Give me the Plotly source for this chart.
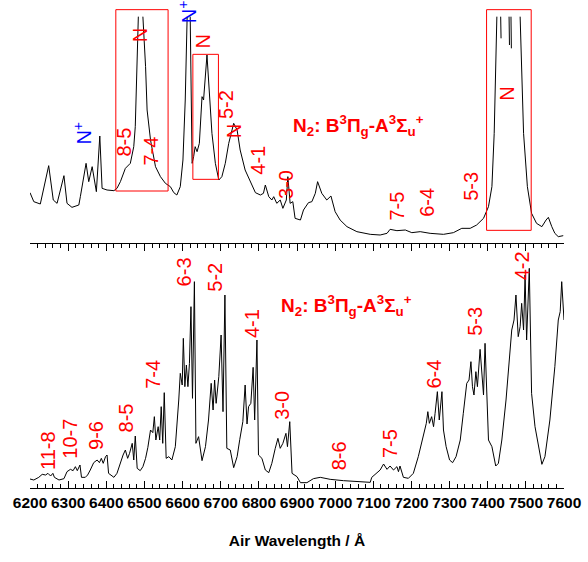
import plotly.graph_objects as go

# ---------------- data ----------------
# Top spectrum (arbitrary intensity units); None marks saturated (cut-off) peak tops
top_wl = [6200, 6210, 6227, 6249, 6261, 6271, 6289, 6297, 6310, 6328, 6332, 6347, 6354, 6363, 6374,
          6383, 6389, 6402, 6420, 6428, 6437, 6450, 6463, 6472, 6476, 6481, 6484, None,
          6496, 6503, 6507, 6516, 6529, 6542, 6555, 6568, 6577, 6585, 6594, 6601, 6607, 6612, None,
          6620, 6625, 6629, 6633, 6638, 6644, 6651, 6655, 6664, 6671, 6677, 6686, 6695, 6703, 6712,
          6721, 6734, 6743, 6751, 6764, 6778, 6791, 6804, 6812, 6817, 6826, 6834, 6839, 6847, 6856,
          6863, 6872, 6876, 6882, 6889, 6895, 6909, 6917, 6930, 6939, 6948, 6954, 6965, 6978, 6989,
          7000, 7013, 7031, 7057, 7092, 7118, 7136, 7144, 7162, 7184, 7201, 7223, 7249, 7284, 7310,
          7332, 7354, 7371, 7389, 7402, 7411, 7417, 7421, 7424, None,
          7434, 7435, None, 7456, 7457, None, 7461, 7462, None,
          7485, 7489, 7494, 7504, 7515, 7528, 7542, 7553, 7559, 7568, 7576, 7585, 7598]
top_int = [157, 130, 123, 238, 135, 125, 208, 125, 113, 120, 145, 245, 190, 235, 160,
           327, 170, 165, 163, 170, 190, 230, 245, 295, 355, 535, 685, None,
           685, 535, 405, 315, 235, 205, 185, 175, 157, 150, 175, 255, 435, 685, None,
           685, 245, 265, 295, 280, 305, 445, 435, 570, 455, 335, 245, 195, 205, 245,
           305, 365, 345, 285, 225, 190, 157, 150, 155, 180, 145, 135, 145, 125, 135,
           110, 135, 205, 125, 130, 80, 75, 105, 127, 130, 155, 190, 155, 135, 147,
           100, 75, 55, 40, 32, 30, 35, 47, 43, 45, 37, 40, 35, 32, 37,
           50, 50, 60, 80, 115, 175, 335, 535, 685, None,
           685, 620, None, 685, 600, None, 685, 590, None,
           685, 535, 335, 175, 95, 65, 55, 75, 83, 55, 35, 25, 28]

# Bottom spectrum (arbitrary intensity units)
bot_wl = [6200, 6210, 6223, 6232, 6241, 6247, 6254, 6260, 6264, 6276, 6289, 6297, 6306, 6313, 6319,
          6324, 6331, 6335, 6345, 6351, 6358, 6367, 6376, 6382, 6387, 6392, 6398, 6402, 6406, 6420,
          6428, 6437, 6444, 6450, 6456, 6461, 6468, 6472, 6476, 6481, 6489, 6496, 6503, 6509, 6516,
          6522, 6526, 6530, 6536, 6540, 6544, 6548, 6552, 6557, 6564, 6572, 6581, 6590, 6594, 6599,
          6602, 6606, 6610, 6614, 6618, 6622, 6626, 6631, 6635, 6642, 6651, 6660, 6668, 6675, 6680,
          6684, 6688, 6695, 6701, 6706, 6711, 6716, 6725, 6734, 6743, 6750, 6758, 6764, 6769, 6773,
          6779, 6785, 6789, 6795, 6799, 6808, 6817, 6826, 6834, 6843, 6850, 6856, 6863, 6871, 6875,
          6881, 6887, 6900, 6909, 6926, 6943, 6961, 6987, 7022, 7057, 7092, 7096, 7109, 7118, 7127,
          7136, 7144, 7153, 7162, 7166, 7170, 7179, 7192, 7205, 7218, 7230, 7239, 7243, 7247, 7253,
          7258, 7262, 7268, 7273, 7280, 7284, 7291, 7300, 7308, 7317, 7328, 7336, 7345, 7351, 7356,
          7360, 7364, 7369, 7373, 7380, 7384, 7389, 7393, 7402, 7411, 7421, 7428, 7437, 7448, 7457,
          7463, 7469, 7474, 7480, 7485, 7489, 7494, 7498, 7502, 7509, 7515, 7524, 7533, 7542, 7550,
          7563, 7576, 7585, 7590, 7594, 7600]
bot_int = [27, 24, 32, 41, 39, 44, 36, 44, 32, 24, 28, 49, 56, 52, 64,
           52, 69, 32, 32, 39, 54, 76, 84, 76, 89, 74, 94, 99, 44, 32,
           44, 79, 99, 114, 89, 104, 134, 84, 156, 59, 52, 64, 89, 122, 174,
           166, 214, 144, 184, 144, 244, 134, 286, 89, 94, 84, 124, 264, 344, 309,
           449, 304, 369, 304, 374, 544, 269, 619, 134, 154, 82, 124, 204, 314, 234,
           324, 254, 334, 459, 229, 579, 119, 114, 61, 94, 146, 199, 309, 192, 244,
           254, 362, 204, 444, 99, 89, 54, 46, 74, 119, 149, 119, 134, 164, 124,
           199, 44, 34, 16, 16, 28, 32, 26, 22, 19, 17, 32, 44, 54, 72,
           56, 66, 54, 64, 49, 66, 32, 29, 44, 94, 154, 194, 229, 194, 214,
           184, 224, 289, 204, 289, 174, 124, 84, 76, 94, 144, 224, 314, 324, 379,
           304, 279, 349, 304, 416, 344, 279, 434, 144, 124, 66, 74, 144, 264, 384,
           474, 504, 579, 454, 484, 554, 474, 639, 444, 659, 284, 184, 124, 71, 94,
           204, 364, 504, 529, 619, 504]

# Band labels (vibrational transitions): text, wavelength, intensity
top_labels = ["8-5", "7-4", "5-2", "4-1", "3-0", "7-5", "6-4", "5-3"]
top_label_wl = [6447, 6517, 6714, 6797, 6871, 7162, 7242, 7354]
top_label_int = [308, 283, 420, 255, 183, 118, 128, 175]

atom_labels = ["N", "N", "N", "N"]
atom_label_wl = [6489, 6653, 6734, 7450]
atom_label_int = [630, 610, 340, 453]

ion_labels = ["N<sup>+</sup>", "N<sup>+</sup>"]
ion_label_wl = [6337, 6613]
ion_label_int = [335, 700]

# boxes around atomic lines: (wl0, wl1, int0, int1)
box_wl0 = [6425, 6627, 7397]
box_wl1 = [6562, 6694, 7514]
box_int0 = [162, 197, 44]
box_int1 = [706, 572, 706]

bot_labels = ["11-8", "10-7", "9-6", "8-5", "7-4", "6-3", "5-2", "4-1", "3-0",
              "8-6", "7-5", "6-4", "5-3", "4-2"]
bot_label_wl = [6247, 6304, 6373, 6452, 6522, 6603, 6685, 6784, 6861,
                7009, 7144, 7258, 7367, 7489]
bot_label_int = [114, 147, 159, 209, 342, 649, 634, 494, 247,
                 97, 132, 342, 499, 667]

formula = "N<sub>2</sub>: B<sup>3</sup>Π<sub>g</sub>-A<sup>3</sup>Σ<sub>u</sub><sup>+</sup>"
formula_top = (7061, 360)
formula_bot = (7030, 548)

x_ticks = list(range(6200, 7601, 100))

# ---------------- figure ----------------
FONT = "Liberation Sans, Arial, sans-serif"
RED = "#ff0000"
BLUE = "#0000ff"
split = 244 / 480

fig = go.Figure()
fig.add_trace(go.Scatter(x=top_wl, y=top_int, mode="lines", xaxis="x2", yaxis="y2",
                         line=dict(color="black", width=1), connectgaps=False, showlegend=False))
fig.add_trace(go.Scatter(x=bot_wl, y=bot_int, mode="lines", xaxis="x", yaxis="y",
                         line=dict(color="black", width=1), showlegend=False))

ann = []
for t, x, y in zip(top_labels, top_label_wl, top_label_int):
    ann.append(dict(text=t, x=x, y=y, xref="x2", yref="y2", textangle=-90, showarrow=False,
                    font=dict(family=FONT, size=20, color=RED)))
for t, x, y in zip(atom_labels, atom_label_wl, atom_label_int):
    ann.append(dict(text=t, x=x, y=y, xref="x2", yref="y2", textangle=-90, showarrow=False,
                    font=dict(family=FONT, size=20, color=RED)))
for t, x, y in zip(ion_labels, ion_label_wl, ion_label_int):
    ann.append(dict(text=t, x=x, y=y, xref="x2", yref="y2", textangle=-90, showarrow=False,
                    font=dict(family=FONT, size=20, color=BLUE)))
for t, x, y in zip(bot_labels, bot_label_wl, bot_label_int):
    ann.append(dict(text=t, x=x, y=y, xref="x", yref="y", textangle=-90, showarrow=False,
                    font=dict(family=FONT, size=20, color=RED)))
ann.append(dict(text=formula, x=formula_top[0], y=formula_top[1], xref="x2", yref="y2",
                showarrow=False, font=dict(family=FONT, size=19, color=RED, weight="bold")))
ann.append(dict(text=formula, x=formula_bot[0], y=formula_bot[1], xref="x", yref="y",
                showarrow=False, font=dict(family=FONT, size=19, color=RED, weight="bold")))

shapes = []
for a, b, c, d in zip(box_wl0, box_wl1, box_int0, box_int1):
    shapes.append(dict(type="rect", xref="x2", yref="y2", x0=a, x1=b, y0=c, y1=d,
                       line=dict(color=RED, width=1)))

fig.update_layout(
    width=588, height=562,
    margin=dict(l=29.5, r=24, t=8, b=74),
    paper_bgcolor="white", plot_bgcolor="white",
    font=dict(family=FONT, color="black"),
    xaxis=dict(domain=[0, 1], anchor="y", range=[6200, 7600], showline=True, linecolor="black",
               linewidth=1.2, mirror="allticks", ticks="inside", ticklen=7, tickwidth=1.2,
               tickcolor="black", tickvals=x_ticks, ticktext=[str(v) for v in x_ticks],
               minor=dict(dtick=20, tick0=6200, ticks="inside", ticklen=4, tickwidth=1, tickcolor="black"),
               showgrid=False, zeroline=False,
               tickfont=dict(family=FONT, size=15.5, color="black", weight="bold"),
               title=dict(text="Air Wavelength / Å", standoff=25,
                          font=dict(family=FONT, size=15.5, color="black", weight="bold"))),
    yaxis=dict(domain=[0, split], range=[0, 732], visible=False),
    xaxis2=dict(domain=[0, 1], anchor="y2", range=[6200, 7600], visible=False),
    yaxis2=dict(domain=[split, 1], range=[3, 711], visible=False),
    annotations=ann, shapes=shapes,
)

fig.write_html("out.html")
